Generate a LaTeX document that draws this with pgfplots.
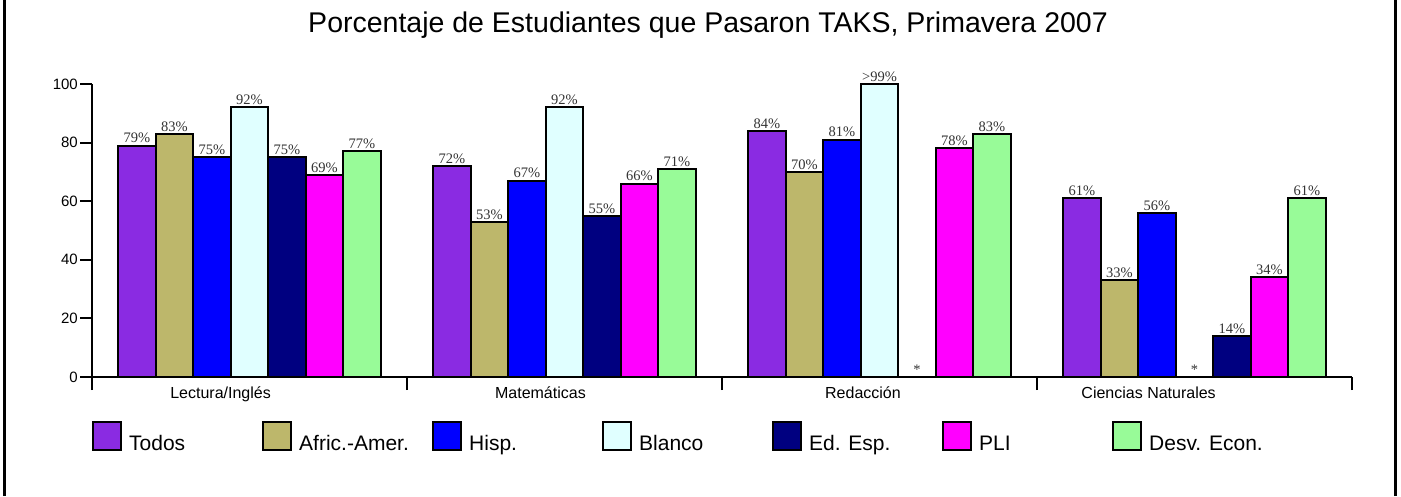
\documentclass[border=0pt]{standalone}
\usepackage{fontspec}
\setmainfont{Liberation Sans}
\newfontfamily\seriffont{Liberation Serif}
\usepackage{pgfplots}
\pgfplotsset{compat=1.18}
\definecolor{cTodos}{RGB}{138,43,226}
\definecolor{cAfric}{RGB}{189,183,107}
\definecolor{cHisp}{RGB}{0,0,255}
\definecolor{cBlanco}{RGB}{224,255,255}
\definecolor{cEdEsp}{RGB}{0,0,128}
\definecolor{cPLI}{RGB}{255,0,255}
\definecolor{cDesv}{RGB}{152,251,152}
\begin{document}
\begin{tikzpicture}
\useasboundingbox (0pt,0pt) rectangle (1401pt,496pt);
\draw[line width=3pt] (4pt,0pt) -- (4pt,496pt);
\draw[line width=3pt] (1395.5pt,0pt) -- (1395.5pt,496pt);
\node[font=\fontsize{28.5}{32}\selectfont] at (708pt,471pt) {Porcentaje de Estudiantes que Pasaron TAKS, Primavera 2007};
\begin{axis}[
  at={(92pt,119pt)}, anchor=south west,
  scale only axis, width=1260pt, height=293pt,
  xmin=-0.5, xmax=3.5, ymin=0, ymax=100,
  clip=false,
  axis x line=bottom, axis y line=left,
  axis line style={line width=2pt, -},
  ybar=0pt, bar width=37.5pt,
  ytick={0,20,40,60,80,100},
  yticklabel style={font=\fontsize{15}{18}\selectfont, inner sep=2pt},
  /pgf/number format/assume math mode=true,
  tick align=outside,
  major tick length=12pt,
  minor tick length=13pt,
  major tick style={line width=2pt, black},
  major x tick style={draw=none},
  minor x tick style={line width=2pt, black},
  xtick={0,1,2,3},
  minor xtick={-0.5,0.5,1.5,2.5,3.5},
  xticklabels={Lectura/Inglés, Matemáticas, Redacción, Ciencias Naturales},
  xticklabel style={font=\fontsize{16}{19}\selectfont, inner sep=0pt, anchor=north east, xshift=21.5pt, yshift=2pt},
  point meta=explicit symbolic,
  nodes near coords,
  every node near coord/.append style={font=\seriffont\fontsize{14.5}{16}\selectfont, text=black!80, inner sep=1.5pt, anchor=south},
  every axis plot post/.append style={draw=black, line width=2pt,
    legend image code/.code={\draw[##1, line width=2pt] (0pt,-6.5pt) rectangle (28pt,21.5pt);}},
  legend columns=7,
  legend cell align=left,
  legend style={at={(0,0)}, anchor=north west, yshift=-44pt, draw=none, fill=none,
    inner sep=0pt, column sep=0pt, font=\fontsize{21}{24}\selectfont, nodes={inner sep=0pt}},
]
\addplot[fill=cTodos] coordinates {(0,79) [79\%] (1,72) [72\%] (2,84) [84\%] (3,61) [61\%]};
\addlegendentry{\makebox[140pt][l]{\hspace{7pt}Todos}}
\addplot[fill=cAfric] coordinates {(0,83) [83\%] (1,53) [53\%] (2,70) [70\%] (3,33) [33\%]};
\addlegendentry{\makebox[140pt][l]{\hspace{7pt}Afric.-Amer.}}
\addplot[fill=cHisp] coordinates {(0,75) [75\%] (1,67) [67\%] (2,81) [81\%] (3,56) [56\%]};
\addlegendentry{\makebox[140pt][l]{\hspace{7pt}Hisp.}}
\addplot[fill=cBlanco] coordinates {(0,92) [92\%] (1,92) [92\%] (2,100) [>99\%] (3,0) [*]};
\addlegendentry{\makebox[140pt][l]{\hspace{7pt}Blanco}}
\addplot[fill=cEdEsp] coordinates {(0,75) [75\%] (1,55) [55\%] (2,0) [*] (3,14) [14\%]};
\addlegendentry{\makebox[140pt][l]{\hspace{7pt}Ed. Esp.}}
\addplot[fill=cPLI] coordinates {(0,69) [69\%] (1,66) [66\%] (2,78) [78\%] (3,34) [34\%]};
\addlegendentry{\makebox[140pt][l]{\hspace{7pt}PLI}}
\addplot[fill=cDesv] coordinates {(0,77) [77\%] (1,71) [71\%] (2,83) [83\%] (3,61) [61\%]};
\addlegendentry{\makebox[140pt][l]{\hspace{7pt}Desv. Econ.}}
\end{axis}
\end{tikzpicture}
\end{document}
